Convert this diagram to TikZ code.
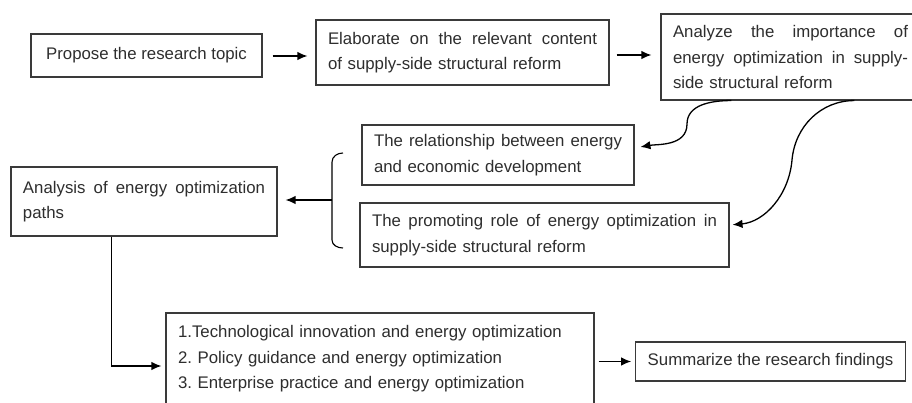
\documentclass[tikz,border=0pt]{standalone}
\usepackage{fontspec}
\setmainfont{Liberation Sans}
\usetikzlibrary{arrows.meta,calc}
\definecolor{boxline}{HTML}{3A3A3A}
\definecolor{txt}{HTML}{2E2E2E}
\tikzset{
  box/.style={draw=boxline, line width=1.1pt, rectangle, inner xsep=12pt, inner ysep=0pt,
    text=txt, font=\fontsize{16.8}{25.5}\selectfont\frenchspacing, anchor=center},
  arr/.style={draw=black, line width=1.3pt, -{Latex[length=10pt,width=8.5pt]}},
}
\begin{document}
\begin{tikzpicture}[x=1pt,y=-1pt]
\path[use as bounding box] (0,0) rectangle (912,403);
\clip (0,0) rectangle (912,403);
\fill[white] (0,0) rectangle (912,403);
% boxes
\node[box, minimum width=231pt, minimum height=43pt] (b1) at (146.5,55.5) {Propose the research topic};
\node[box, minimum width=293pt, minimum height=65pt, text width=269pt, align=left] (b2) at (462.5,52.5)
  {Elaborate\hfill on\hfill the\hfill relevant\hfill content\\of supply-side structural reform};
\node[box, minimum width=259pt, minimum height=86pt, text width=235pt, align=left] (b3) at (790.5,57)
  {Analyze\hfill the\hfill importance\hfill of\\energy\hfill optimization\hfill in\hfill supply-\\side structural reform};
\node[box, minimum width=272pt, minimum height=60pt, text width=248pt, align=left] (b4) at (498,155)
  {The\hfill relationship\hfill between\hfill energy\\and economic development};
\node[box, minimum width=369pt, minimum height=64pt, text width=345pt, align=left] (b5) at (544.5,235)
  {The\hfill promoting\hfill role\hfill of\hfill energy\hfill optimization\hfill in\\supply-side structural reform};
\node[box, minimum width=266pt, minimum height=69pt, text width=242pt, align=left] (b6) at (144,201.5)
  {Analysis\hfill of\hfill energy\hfill optimization\\paths};
\node[box, minimum width=428pt, minimum height=92pt, text width=404pt, align=left] (b7) at (380,359)
  {1.Technological innovation and energy optimization\\2. Policy guidance and energy optimization\\3. Enterprise practice and energy optimization};
\node[box, minimum width=263pt, minimum height=39pt] (b8) at (770.5,361.5) {Summarize the research findings};
% straight arrows
\draw[arr, shorten <=10pt, shorten >=8pt] ([yshift=-0.5pt]b1.east) -- ([yshift=-0.5pt]b1.east -| b2.west);
\draw[arr, shorten <=7pt, shorten >=9pt] ([yshift=-2.5pt]b2.east) -- ([yshift=-2.5pt]b2.east -| b3.west);
% curved arrows
\coordinate (c1) at ($(b3.south west)+(71,0)$);
\coordinate (c2) at ($(b3.south west)+(194,0)$);
\draw[arr, shorten >=6pt] (c1) to[out=180,in=90] (687,124) to[out=-90,in=10] ([yshift=7pt]b4.east);
\draw[arr, shorten >=3pt] (c2) to[out=180,in=85] (792,160) to[out=-95,in=5] ([yshift=10pt]b5.east);
% brace
\coordinate (br) at (332,200);
\draw[black, line width=1.1pt] (343,153) to[out=180,in=90] (332,162) -- (332,240) to[out=-90,in=180] (343,248);
\draw[arr, shorten >=8pt] (br) -- (br -| b6.east);
% down and right
\coordinate (c3) at ($(b6.south west)+(101,0)$);
\draw[arr, shorten >=4pt] (c3) |- ([yshift=-7pt]b7.west);
\draw[arr, shorten <=4pt, shorten >=4pt] (b7.east |- b8.west) -- (b8.west);
\end{tikzpicture}
\end{document}
